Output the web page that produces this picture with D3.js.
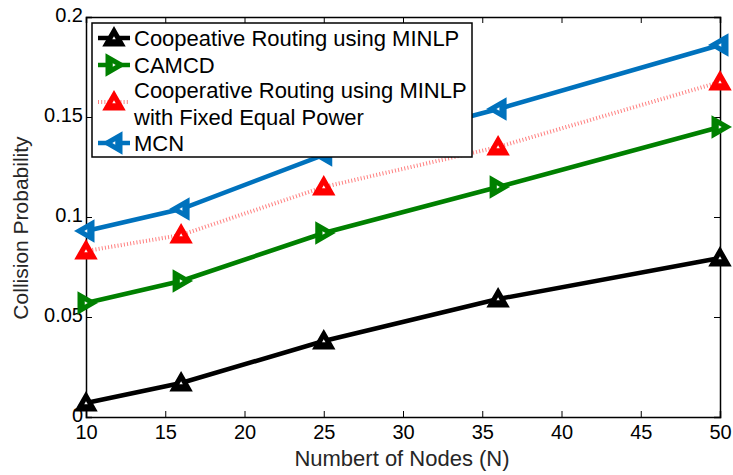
<!DOCTYPE html>
<html>
<head>
<meta charset="utf-8">
<script src="https://cdn.jsdelivr.net/npm/d3@7"></script>
<style>
  body { margin: 0; background: #fff; }
  svg { display: block; }
</style>
</head>
<body>
<div id="chart"></div>
<script>
// data
const nodes = [10, 16, 25, 36, 50]
const coopMinlp = [0.007, 0.017, 0.038, 0.059, 0.0795]
const camcd = [0.057, 0.068, 0.092, 0.115, 0.145]
const coopFixed = [0.083, 0.091, 0.115, 0.135, 0.1675]
const mcn = [0.093, 0.104, 0.131, 0.154, 0.186]
const xTicks = [10, 15, 20, 25, 30, 35, 40, 45, 50]
const yTicks = [0, 0.05, 0.1, 0.15, 0.2]

const series = [
  { name: ['Coopeative Routing using MINLP'], values: coopMinlp, color: '#000000', width: 4.5, dash: null, marker: 'up' },
  { name: ['CAMCD'], values: camcd, color: '#008000', width: 4.5, dash: null, marker: 'right' },
  { name: ['Cooperative Routing using MINLP', 'with Fixed Equal Power'], values: coopFixed, color: '#ff0000', lineColor: '#ff7f7f', width: 4, dash: '1,2.2', marker: 'up' },
  { name: ['MCN'], values: mcn, color: '#0072bd', width: 4.5, dash: null, marker: 'left' }
]

const W = 733, H = 475
const margin = { top: 17, right: 13, bottom: 58, left: 86 }
const width = W - margin.left - margin.right
const height = H - margin.top - margin.bottom
const font = '"Liberation Sans", Arial, sans-serif'

const svg = d3.select('#chart').append('svg')
  .attr('width', W).attr('height', H)

const g = svg.append('g').attr('transform', `translate(${margin.left},${margin.top})`)

const x = d3.scaleLinear().domain([10, 50]).range([0, width])
const y = d3.scaleLinear().domain([0, 0.2]).range([height, 0])

const fmt = d => d === 0 ? '0' : String(+d.toFixed(2))

// axes with inward ticks, mirrored on top/right
const tl = 6
g.append('g').attr('transform', `translate(0,${height})`)
  .call(d3.axisBottom(x).tickValues(xTicks).tickSize(-tl).tickPadding(5).tickFormat(d => d))
  .call(a => a.selectAll('text').attr('dy', '0.85em').style('font-family', font).style('font-size', '20px').attr('fill', '#000'))
g.append('g')
  .call(d3.axisTop(x).tickValues(xTicks).tickSize(-tl).tickFormat(''))
g.append('g')
  .call(d3.axisLeft(y).tickValues(yTicks).tickSize(-tl).tickPadding(3).tickFormat(fmt))
  .call(a => a.selectAll('text').attr('dy', '0.2em').style('font-family', font).style('font-size', '20px').attr('fill', '#000'))
g.append('g').attr('transform', `translate(${width},0)`)
  .call(d3.axisRight(y).tickValues(yTicks).tickSize(-tl).tickFormat(''))
g.selectAll('.domain').attr('stroke', '#000').attr('stroke-width', 1.5)
g.selectAll('.tick line').attr('stroke', '#000')

// axis titles
svg.append('text')
  .attr('x', margin.left + width / 2 - 1).attr('y', H - 9)
  .attr('text-anchor', 'middle')
  .style('font-family', font)
  .style('font-size', '22px').attr('fill', '#262626')
  .text('Numbert of Nodes (N)')
svg.append('text')
  .attr('transform', `translate(28,${margin.top + height / 2 + 11}) rotate(-90)`)
  .attr('text-anchor', 'middle')
  .style('font-family', font)
  .style('font-size', '21px').attr('fill', '#262626')
  .text('Collision Probability')

// marker shapes: solid triangle with a small white core
function tri(type, a) {
  if (type === 'up') return `M0,${-a}L${a},${a * 0.75}L${-a},${a * 0.75}Z`
  if (type === 'right') return `M${a},0L${-a * 0.75},${a}L${-a * 0.75},${-a}Z`
  return `M${-a},0L${a * 0.75},${a}L${a * 0.75},${-a}Z`
}
function drawMarker(sel, type, color) {
  sel.append('path').attr('d', tri(type, 10))
    .style('fill', color).style('stroke', color)
    .style('stroke-width', 2).style('stroke-linejoin', 'miter')
  sel.append('path').attr('d', tri(type, 1.7)).style('fill', '#fff').style('stroke', 'none')
}

const line = d3.line().x((d, i) => x(nodes[i])).y(d => y(d))

const plot = g.append('g')
series.forEach(s => {
  plot.append('path').datum(s.values)
    .attr('d', line)
    .attr('fill', 'none')
    .attr('stroke', s.lineColor || s.color)
    .attr('stroke-width', s.width)
    .attr('stroke-dasharray', s.dash)
  plot.selectAll(null).data(s.values).join('g')
    .attr('transform', (d, i) => `translate(${x(nodes[i])},${y(d)})`)
    .each(function () { drawMarker(d3.select(this), s.marker, s.color) })
})

// legend
const lg = svg.append('g').attr('transform', 'translate(92,23)')
lg.append('rect').attr('width', 380).attr('height', 134)
  .attr('fill', '#fff').attr('stroke', '#000').attr('stroke-width', 1.5)
const rows = [15, 42, 67, 94, 120]
let row = 0
series.forEach(s => {
  const cy = s.name.length > 1 ? rows[row] + 12 : rows[row]
  const item = lg.append('g')
  item.append('line').attr('x1', 6).attr('x2', 38).attr('y1', cy).attr('y2', cy)
    .attr('stroke', s.lineColor || s.color).attr('stroke-width', s.width)
    .attr('stroke-dasharray', s.dash)
  drawMarker(item.append('g').attr('transform', `translate(22,${cy})`), s.marker, s.color)
  s.name.forEach((t, k) => {
    item.append('text').attr('x', 42).attr('y', rows[row + k])
      .attr('dy', '0.35em')
      .style('font-family', font)
      .style('font-size', '22px').attr('fill', '#000')
      .text(t)
  })
  row += s.name.length
})
</script>
</body>
</html>
